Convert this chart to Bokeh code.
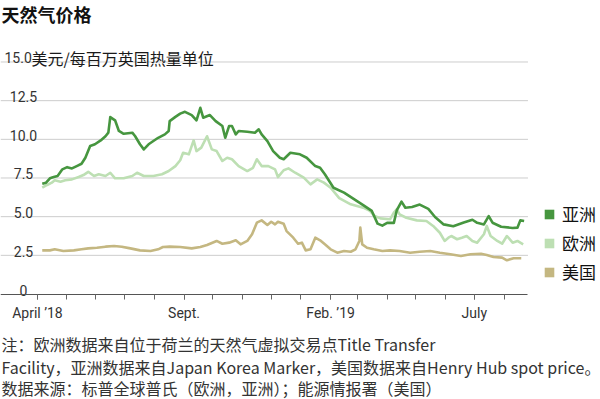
import pandas as pd
from bokeh.plotting import figure
from bokeh.models import Range1d, FixedTicker, Label, Legend, LegendItem
from bokeh.core.properties import value
from bokeh.embed import file_html
from bokeh.resources import INLINE

# ---------------- data ----------------
asia_dates = ["2018-04-06", "2018-04-10", "2018-04-14", "2018-04-18", "2018-04-22", "2018-04-27",
              "2018-05-02", "2018-05-07", "2018-05-12", "2018-05-17", "2018-05-21", "2018-05-26",
              "2018-05-31", "2018-06-06", "2018-06-11", "2018-06-14", "2018-06-16", "2018-06-21",
              "2018-06-25", "2018-06-30", "2018-07-09", "2018-07-12", "2018-07-17", "2018-07-21",
              "2018-07-26", "2018-07-31", "2018-08-05", "2018-08-12", "2018-08-16", "2018-08-17",
              "2018-08-23", "2018-08-28", "2018-09-02", "2018-09-09", "2018-09-14", "2018-09-18",
              "2018-09-21", "2018-09-28", "2018-10-04", "2018-10-11", "2018-10-14", "2018-10-18",
              "2018-10-21", "2018-10-25", "2018-10-28", "2018-11-06", "2018-11-14", "2018-11-18",
              "2018-11-21", "2018-11-27", "2018-12-03", "2018-12-10", "2018-12-14", "2018-12-21",
              "2018-12-31", "2019-01-07", "2019-01-16", "2019-01-21", "2019-01-26", "2019-02-04",
              "2019-02-15", "2019-02-25", "2019-03-07", "2019-03-16", "2019-03-22", "2019-03-27",
              "2019-04-01", "2019-04-08", "2019-04-11", "2019-04-16", "2019-04-20", "2019-04-27",
              "2019-05-05", "2019-05-14", "2019-05-21", "2019-05-30", "2019-06-09", "2019-06-20",
              "2019-06-29", "2019-07-04", "2019-07-11", "2019-07-16", "2019-07-20", "2019-07-29",
              "2019-08-10", "2019-08-15", "2019-08-18", "2019-08-22"]
asia_values = [7.13, 7.2, 7.48, 7.56, 7.63, 8.06,
               8.2, 8.12, 8.27, 8.42, 8.81, 9.57,
               9.68, 9.93, 10.2, 10.43, 11.44, 11.23,
               10.54, 10.36, 10.43, 10.2, 9.68, 9.35,
               9.68, 9.89, 10.1, 10.32, 10.54, 11.18,
               11.45, 11.66, 11.78, 11.57, 11.23, 12.04,
               11.4, 11.57, 11.18, 10.86, 10.1, 10.86,
               10.86, 10.32, 10.54, 10.49, 10.43, 10.65,
               10.32, 9.89, 9.24, 8.81, 8.71, 9.13,
               9.03, 8.81, 8.27, 8.16, 7.74, 6.87,
               6.55, 6.15, 5.75, 5.37, 4.55, 4.42,
               4.6, 4.6, 5.4, 5.97, 5.58, 5.62,
               5.78, 5.5, 4.98, 4.5, 4.38, 4.62,
               4.8, 4.6, 4.5, 5.04, 4.61, 4.35,
               4.27, 4.29, 4.76, 4.72]

europe_dates = ["2018-04-06", "2018-04-11", "2018-04-16", "2018-04-19", "2018-04-25", "2018-04-30",
                "2018-05-07", "2018-05-14", "2018-05-19", "2018-05-24", "2018-05-30", "2018-06-04",
                "2018-06-11", "2018-06-16", "2018-06-21", "2018-06-30", "2018-07-09", "2018-07-14",
                "2018-07-21", "2018-07-31", "2018-08-09", "2018-08-16", "2018-08-23", "2018-08-28",
                "2018-08-31", "2018-09-06", "2018-09-11", "2018-09-14", "2018-09-19", "2018-09-25",
                "2018-09-30", "2018-10-05", "2018-10-11", "2018-10-16", "2018-10-21", "2018-10-28",
                "2018-11-06", "2018-11-12", "2018-11-16", "2018-11-21", "2018-11-28", "2018-12-05",
                "2018-12-08", "2018-12-14", "2018-12-19", "2018-12-26", "2019-01-04", "2019-01-11",
                "2019-01-18", "2019-01-25", "2019-02-01", "2019-02-10", "2019-02-22", "2019-03-07",
                "2019-03-14", "2019-03-19", "2019-03-25", "2019-04-04", "2019-04-08", "2019-04-11",
                "2019-04-14", "2019-04-21", "2019-05-02", "2019-05-12", "2019-05-19", "2019-05-26",
                "2019-05-31", "2019-06-04", "2019-06-07", "2019-06-13", "2019-06-18", "2019-06-23",
                "2019-06-29", "2019-07-04", "2019-07-11", "2019-07-14", "2019-07-18", "2019-07-25",
                "2019-07-30", "2019-08-04", "2019-08-10", "2019-08-15", "2019-08-21"]
europe_values = [6.87, 7.05, 7.2, 7.35, 7.26, 7.35,
                 7.41, 7.56, 7.69, 7.9, 7.63, 7.74,
                 7.63, 7.84, 7.48, 7.48, 7.63, 7.84,
                 7.63, 7.63, 7.74, 7.95, 8.27, 8.65,
                 9.13, 9.03, 9.93, 9.24, 9.46, 10.2,
                 9.35, 9.24, 8.6, 8.81, 8.71, 8.27,
                 7.95, 8.16, 8.71, 8.27, 8.27, 8.06,
                 7.56, 8.0, 8.12, 7.84, 7.52, 7.09,
                 7.41, 7.2, 6.87, 6.2, 5.8, 5.58,
                 5.37, 5.04, 4.89, 4.83, 5.26, 5.48,
                 5.15, 4.93, 4.76, 4.72, 4.4, 3.96,
                 3.43, 3.64, 3.75, 3.54, 3.64, 3.75,
                 3.43, 3.32, 3.86, 4.4, 3.75, 3.43,
                 3.25, 3.75, 3.32, 3.43, 3.21]

us_dates = ["2018-04-06", "2018-04-14", "2018-04-19", "2018-04-28", "2018-05-09", "2018-05-17",
            "2018-05-24", "2018-06-02", "2018-06-11", "2018-06-20", "2018-06-28", "2018-07-07",
            "2018-07-17", "2018-07-28", "2018-08-05", "2018-08-10", "2018-08-17", "2018-08-28",
            "2018-09-09", "2018-09-18", "2018-09-25", "2018-10-05", "2018-10-11", "2018-10-18",
            "2018-10-25", "2018-10-30", "2018-11-06", "2018-11-11", "2018-11-16", "2018-11-21",
            "2018-11-27", "2018-12-01", "2018-12-05", "2018-12-08", "2018-12-14", "2018-12-17",
            "2018-12-24", "2018-12-29", "2019-01-02", "2019-01-06", "2019-01-11", "2019-01-16",
            "2019-01-21", "2019-01-26", "2019-02-01", "2019-02-08", "2019-02-15", "2019-02-22",
            "2019-02-27", "2019-03-03", "2019-03-04", "2019-03-06", "2019-03-11", "2019-03-18",
            "2019-03-27", "2019-04-04", "2019-04-14", "2019-04-25", "2019-05-05", "2019-05-16",
            "2019-05-26", "2019-06-06", "2019-06-17", "2019-06-27", "2019-07-08", "2019-07-14",
            "2019-07-21", "2019-07-30", "2019-08-04", "2019-08-11", "2019-08-19"]
us_values = [2.82, 2.82, 2.89, 2.78, 2.82, 2.89,
             2.95, 2.99, 3.06, 3.1, 3.06, 2.95,
             2.82, 2.78, 2.89, 3.04, 3.06, 3.04,
             2.95, 3.04, 3.17, 3.43, 3.25, 3.32,
             3.47, 3.21, 3.43, 3.86, 4.61, 4.76,
             4.46, 4.67, 4.5, 4.67, 4.54, 4.07,
             3.64, 3.25, 3.32, 2.82, 2.89, 3.64,
             3.47, 3.21, 2.89, 2.67, 2.78, 2.73,
             2.89, 3.43, 4.29, 3.21, 2.99, 2.89,
             2.78, 2.82, 2.78, 2.67, 2.73, 2.78,
             2.67, 2.57, 2.46, 2.57, 2.6, 2.52,
             2.39, 2.35, 2.18, 2.31, 2.31]

series_names = ["亚洲", "欧洲", "美国"]

ytick_values = [0, 2.5, 5.0, 7.5, 10.0, 12.5]
ytick_labels = ["0", "2.5", "5.0", "7.5", "10.0", "12.5"]
ytop_value = 15.0
ytop_label = "15.0"
unit_label = "美元/每百万英国热量单位"
grid_values = [2.5, 5.0, 7.5, 10.0, 12.5, 15.0]

month_ticks = ["2018-04-01", "2018-05-01", "2018-06-01", "2018-07-01", "2018-08-01", "2018-09-01",
               "2018-10-01", "2018-11-01", "2018-12-01", "2019-01-01", "2019-02-01", "2019-03-01",
               "2019-04-01", "2019-05-01", "2019-06-01", "2019-07-01", "2019-08-01"]
labelled_ticks = ["2018-04-01", "2018-09-01", "2019-02-01", "2019-07-01"]
xtick_labels = ["April ’18", "Sept.", "Feb. ’19", "July"]

title_text = "天然气价格"
note_lines = [
    "注：欧洲数据来自位于荷兰的天然气虚拟交易点Title Transfer",
    "Facility，亚洲数据来自Japan Korea Marker，美国数据来自Henry Hub spot price。",
    "数据来源：标普全球普氏（欧洲，亚洲）；能源情报署（美国）",
]

# ---------------- styling ----------------
ASIA_C = "#46963f"
EUROPE_C = "#bddfb3"
US_C = "#c4b781"
GRID_C = "#cdcdcd"
CJK = "Noto Sans CJK SC"
NUM = "Roboto"

W, H = 600, 399
x_start = pd.Timestamp("2018-02-21 10:00")
x_end = pd.Timestamp("2019-11-09 17:00")
grid_end = pd.Timestamp("2019-08-26")


def ms(s):
    return float(pd.Timestamp(s).value // 10**6)


p = figure(width=W, height=H, x_axis_type="datetime",
           x_range=Range1d(x_start, x_end), y_range=Range1d(-6.821, 18.976),
           output_backend="svg", toolbar_location=None, min_border=0,
           y_axis_location=None, outline_line_color=None,
           background_fill_color="white", border_fill_color="white")
p.grid.visible = False

# grid lines (stop short of the legend column)
p.segment(x0=[ms(x_start)] * len(grid_values), y0=grid_values,
          x1=[ms(grid_end)] * len(grid_values), y1=grid_values,
          line_color=GRID_C, line_width=1)

# series
p.line(pd.to_datetime(us_dates), us_values, line_color=US_C, line_width=2.6, line_join="round")
p.line(pd.to_datetime(europe_dates), europe_values, line_color=EUROPE_C, line_width=2.6, line_join="round")
p.line(pd.to_datetime(asia_dates), asia_values, line_color=ASIA_C, line_width=2.6, line_join="round")

# y labels (sit above their grid lines)
p.text(x=[x_start] * len(ytick_values), y=ytick_values, text=ytick_labels,
       x_offset=23, y_offset=-4, text_align="center", text_baseline="alphabetic",
       text_font=value(NUM), text_font_size="14px", text_color="#333333")
p.text(x=[x_start], y=[ytop_value], text=[ytop_label],
       x_offset=4, y_offset=-4, text_align="left", text_baseline="alphabetic",
       text_font=value(NUM), text_font_size="14px", text_color="#333333")
p.text(x=[x_start], y=[ytop_value], text=[unit_label],
       x_offset=31, y_offset=-4, text_align="left", text_baseline="alphabetic",
       text_font=value(CJK), text_font_size="16px", text_color="#1a1a1a")

# x axis
ax = p.xaxis[0]
ax.fixed_location = 0
ax.bounds = (x_start, grid_end)
ax.ticker = FixedTicker(ticks=[ms(t) for t in labelled_ticks],
                        minor_ticks=[ms(t) for t in month_ticks])
ax.major_label_overrides = {ms(t): lab for t, lab in zip(labelled_ticks, xtick_labels)}
ax.axis_line_color = "#555555"
ax.axis_line_width = 1.2
ax.major_tick_in = 0
ax.major_tick_out = 5
ax.minor_tick_in = 0
ax.minor_tick_out = 5
ax.major_tick_line_color = "#666666"
ax.minor_tick_line_color = "#666666"
ax.major_label_text_font = NUM
ax.major_label_text_font_size = "14px"
ax.major_label_text_color = "#333333"
ax.major_label_standoff = 6

# legend
nan = float("nan")
colors = [ASIA_C, EUROPE_C, US_C]
items = []
for name, c in zip(series_names, colors):
    r = p.quad(left=[nan], right=[nan], top=[nan], bottom=[nan], fill_color=c, line_color=None)
    items.append(LegendItem(label=name, renderers=[r]))
legend = Legend(items=items, location=(543, 115), orientation="vertical",
                glyph_width=12, glyph_height=12, label_standoff=7, spacing=4,
                padding=0, margin=0, border_line_color=None, background_fill_alpha=0,
                label_text_font=CJK, label_text_font_size="17px", label_height=20,
                label_text_color="#111111")
p.add_layout(legend)

# title and notes
p.add_layout(Label(x=1, y=H - 13, x_units="screen", y_units="screen", text=title_text,
                   text_font=CJK, text_font_style="bold", text_font_size="18px",
                   text_baseline="middle", text_color="#111111"))
for line, yy in zip(note_lines, [H - 343, H - 366, H - 387]):
    p.add_layout(Label(x=1, y=yy, x_units="screen", y_units="screen", text=line,
                       text_font=CJK, text_font_size="16px", text_baseline="middle",
                       text_color="#333333"))

open("out.html", "w").write(file_html(p, INLINE))
